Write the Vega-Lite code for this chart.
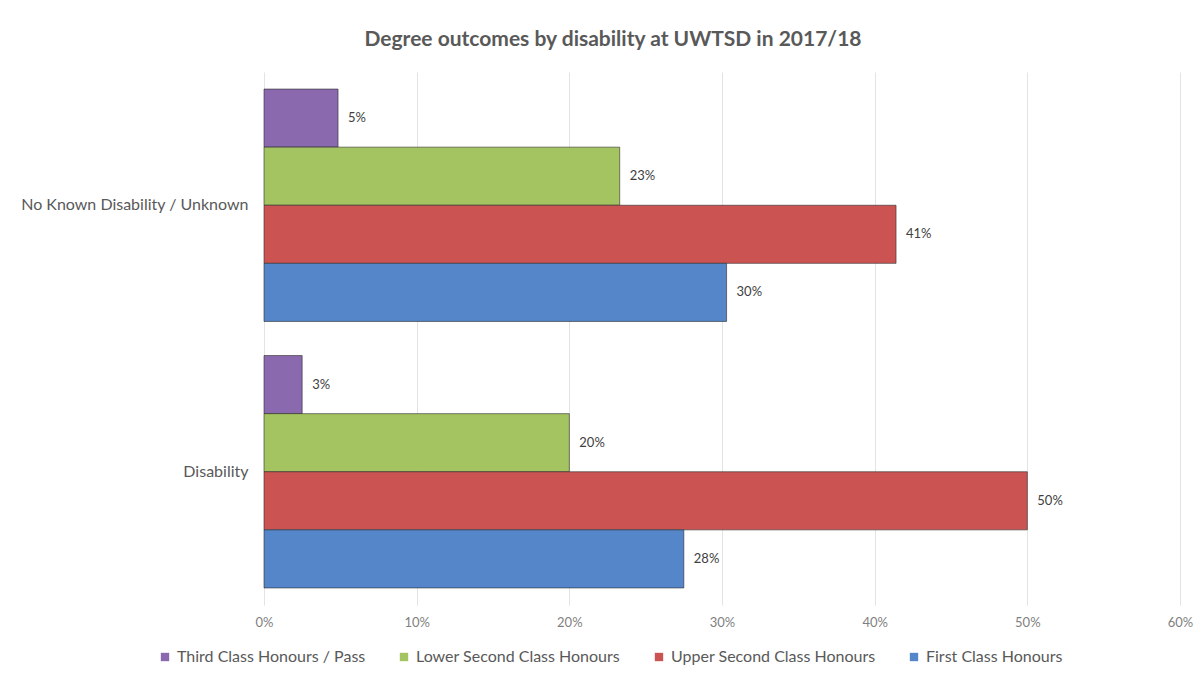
{
  "$schema": "https://vega.github.io/schema/vega-lite/v6.json",
  "width": 916,
  "height": 533,
  "autosize": {"type": "none"},
  "padding": {"left": 264, "top": 72, "right": 21, "bottom": 69},
  "background": "white",
  "config": {"view": {"stroke": null}, "font": "Lato"},
  "title": {
    "text": "Degree outcomes by disability at UWTSD in 2017/18",
    "fontSize": 21,
    "fontWeight": "bold",
    "color": "#595959",
    "font": "Lato",
    "anchor": "middle",
    "frame": "group",
    "dx": -109,
    "offset": 22
  },
  "data": {
    "values": [
      {"group": "No Known Disability / Unknown", "outcome": "Third Class Honours / Pass", "value": 0.0485},
      {"group": "No Known Disability / Unknown", "outcome": "Lower Second Class Honours", "value": 0.233},
      {"group": "No Known Disability / Unknown", "outcome": "Upper Second Class Honours", "value": 0.414},
      {"group": "No Known Disability / Unknown", "outcome": "First Class Honours", "value": 0.303},
      {"group": "Disability", "outcome": "Third Class Honours / Pass", "value": 0.025},
      {"group": "Disability", "outcome": "Lower Second Class Honours", "value": 0.2},
      {"group": "Disability", "outcome": "Upper Second Class Honours", "value": 0.5},
      {"group": "Disability", "outcome": "First Class Honours", "value": 0.275}
    ]
  },
  "encoding": {
    "y": {
      "field": "group",
      "type": "nominal",
      "sort": ["No Known Disability / Unknown", "Disability"],
      "scale": {"paddingInner": 0.128, "paddingOuter": 0.064},
      "axis": {
        "title": null,
        "domain": false,
        "ticks": false,
        "labelFontSize": 16,
        "labelColor": "#595959",
        "labelPadding": 16,
        "labelLimit": 300,
        "labelFont": "Lato"
      }
    },
    "yOffset": {
      "field": "outcome",
      "type": "nominal",
      "sort": ["Third Class Honours / Pass", "Lower Second Class Honours", "Upper Second Class Honours", "First Class Honours"],
      "scale": {"paddingInner": 0, "paddingOuter": 0}
    },
    "x": {
      "field": "value",
      "type": "quantitative",
      "scale": {"domain": [0, 0.6], "nice": false},
      "axis": {
        "title": null,
        "format": ".0%",
        "values": [0, 0.1, 0.2, 0.3, 0.4, 0.5, 0.6],
        "labelOverlap": false,
        "labelFlush": false,
        "domain": false,
        "ticks": false,
        "grid": true,
        "gridColor": "#e3e3e3",
        "labelFontSize": 13,
        "labelColor": "#7f7f7f",
        "labelPadding": 11,
        "labelFont": "Lato"
      }
    }
  },
  "layer": [
    {
      "mark": {"type": "bar", "stroke": "#2b2b2b", "strokeWidth": 1, "strokeOpacity": 0.6},
      "encoding": {
        "color": {
          "field": "outcome",
          "type": "nominal",
          "scale": {
            "domain": ["Third Class Honours / Pass", "Lower Second Class Honours", "Upper Second Class Honours", "First Class Honours"],
            "range": ["#8B69AE", "#A3C460", "#CB5452", "#5486C9"]
          },
          "legend": {
            "title": null,
            "orient": "none",
            "legendX": -107,
            "legendY": 577,
            "direction": "horizontal",
            "columns": 4,
            "symbolType": "square",
            "symbolSize": 70,
            "symbolStrokeWidth": 0,
            "labelFontSize": 16,
            "labelLimit": 400,
            "labelColor": "#595959",
            "labelFont": "Lato",
            "columnPadding": 30,
            "labelOffset": 4
          }
        }
      }
    },
    {
      "mark": {"type": "text", "align": "left", "baseline": "middle", "dx": 10, "fontSize": 13, "color": "#404040", "font": "Lato"},
      "encoding": {
        "text": {"field": "value", "type": "quantitative", "format": ".0%"}
      }
    }
  ]
}
